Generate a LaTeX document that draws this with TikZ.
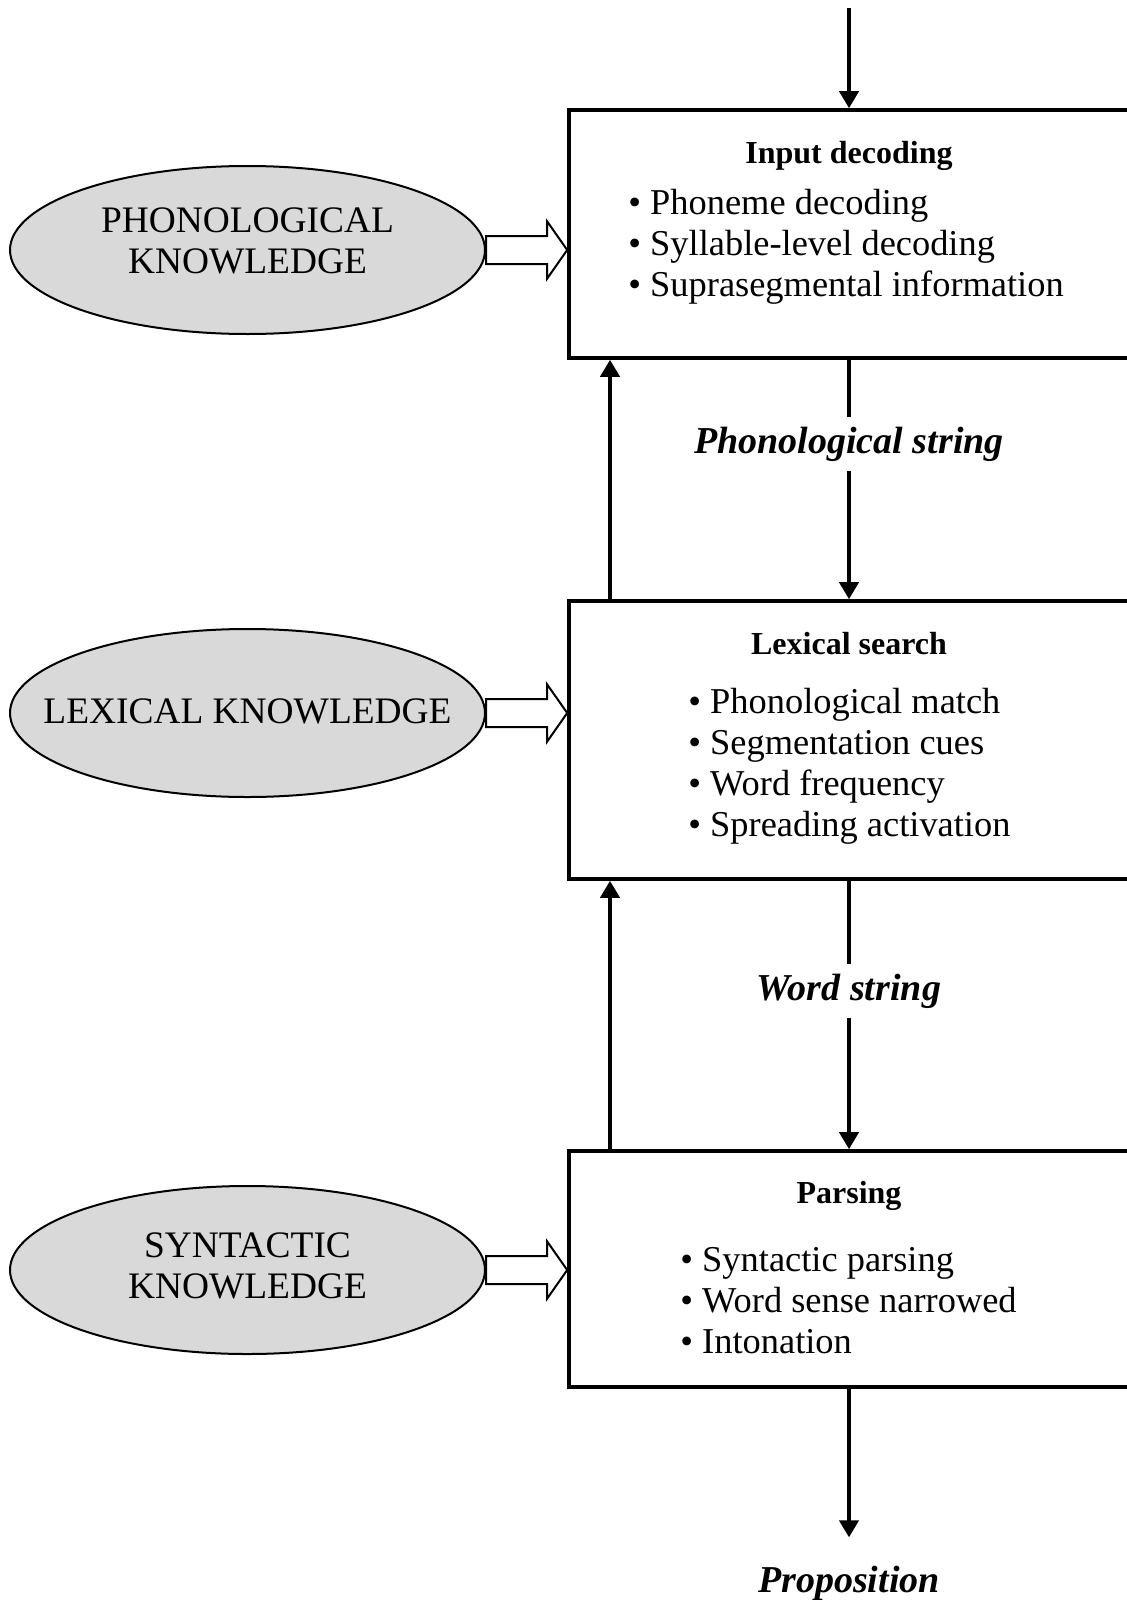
\documentclass[tikz,border=0pt]{standalone}
\usepackage{fontspec}
\setmainfont{Liberation Serif}
\usetikzlibrary{arrows.meta, calc, shapes.geometric}

\begin{document}
\begin{tikzpicture}[x=0.5pt, y=-0.5pt,
  flow/.style={line width=2pt, -{Triangle[length=8.5pt,width=9.5pt]}},
  stage/.style={draw, line width=1.8pt, rectangle, minimum width=280pt},
  know/.style={draw, line width=1pt, ellipse, fill=black!15, minimum width=237.5pt,
    minimum height=84pt},
  lore/.style={align=center, inner sep=0pt, font=\fontsize{18.7}{20.5}\selectfont},
  heading/.style={font=\fontsize{16}{19}\selectfont\bfseries},
  items/.style={anchor=west, align=left, inner sep=0pt, font=\fontsize{18.2}{20.5}\selectfont},
  carry/.style={fill=white, inner xsep=5pt, inner ysep=4.5pt, font=\fontsize{19}{22}\selectfont\bfseries\itshape},
  hollow/.style={draw, line width=1pt, fill=white, line join=miter}
]
% Frame
\clip (0,0) rectangle (1127,1600);

% Stages
\node[stage, minimum height=124pt] (inp) at (849,234) {};
\node[stage, minimum height=139pt] (lex) at (849,740) {};
\node[stage, minimum height=118pt] (par) at (849,1269) {};

\node[heading] (inpT) at (849,156) {Input decoding};
\node[items] (inpL) at (628,247) {\textbullet~Phoneme decoding\\ \textbullet~Syllable-level decoding\\ \textbullet~Suprasegmental information};

\node[heading] (lexT) at (849,644) {Lexical search};
\node[items] (lexL) at (688,766) {\textbullet~Phonological match\\ \textbullet~Segmentation cues\\ \textbullet~Word frequency\\ \textbullet~Spreading activation};

\node[heading] (parT) at (849,1196) {Parsing};
\node[items] (parL) at (680,1301) {\textbullet~Syntactic parsing\\ \textbullet~Word sense narrowed\\ \textbullet~Intonation};

% Knowledge sources
\node[know] (phon) at (247.5,250) {};
\node[know] (lexk) at (247.5,713) {};
\node[know] (synk) at (247.5,1270) {};
\node[lore] (phonT) at (247.5,241) {PHONOLOGICAL\\ KNOWLEDGE};
\node[lore] (lexkT) at (247.5,711) {LEXICAL KNOWLEDGE};
\node[lore] (synkT) at (247.5,1266) {SYNTACTIC\\ KNOWLEDGE};

\foreach \k/\b in {phon/inp, lexk/lex, synk/par} {
  \coordinate (t) at (\b.west |- \k.east);
  \draw[hollow] ($(\k.east)+(0,-14)$) -- ($(t)+(-20,-14)$) -- ($(t)+(-20,-28.5)$) -- (t)
    -- ($(t)+(-20,28.5)$) -- ($(t)+(-20,14)$) -- ($(\k.east)+(0,14)$) -- cycle;
}

% Strings passed down
\node[carry] (ps) at (849,444) {Phonological string};
\node[carry] (ws) at (849,991) {Word string};
\node[carry, fill=none] (prop) at (849,1583) {Proposition};

\coordinate (src) at (849,8);
\coordinate (ux) at (610,0);
\draw[flow] (src) -- (inp.north);
\draw[line width=2pt] (inp.south) -- (ps.north);
\draw[flow] (ps.south) -- (lex.north);
\draw[line width=2pt] (lex.south) -- (ws.north);
\draw[flow] (ws.south) -- (par.north);
\draw[flow, shorten >=9.5pt] (par.south) -- (prop.north);

% Feedback
\draw[flow] (lex.north -| ux) -- (inp.south -| ux);
\draw[flow] (par.north -| ux) -- (lex.south -| ux);
\end{tikzpicture}
\end{document}
